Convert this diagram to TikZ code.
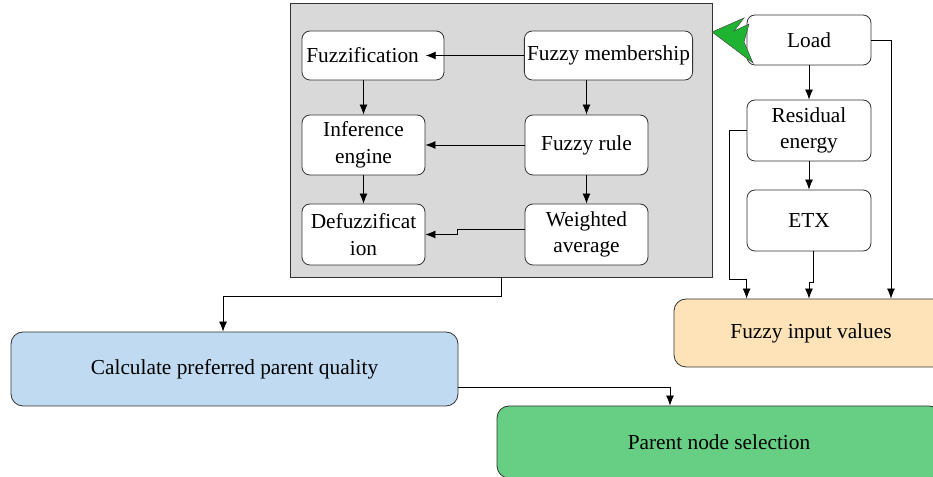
\documentclass[tikz,border=0pt]{standalone}
\usepackage{fontspec}
\setmainfont{Liberation Serif}
\usetikzlibrary{arrows.meta,positioning}
\definecolor{panelgray}{RGB}{217,217,217}
\definecolor{calcblue}{RGB}{192,219,241}
\definecolor{inputpeach}{RGB}{253,227,183}
\definecolor{selgreen}{RGB}{102,207,132}
\definecolor{boltgreen}{RGB}{30,180,50}

\begin{document}
\begin{tikzpicture}[%
        x=0.75pt, y=-0.75pt,
        every node/.style={font=\fontsize{16}{20}\selectfont, align=center, inner sep=2pt},
        box/.style={draw=black!80, line width=0.6pt, rounded corners=6pt, fill=white},
        bigbox/.style={draw=black!80, line width=0.6pt, rounded corners=9pt},
        line width=0.6pt, >={Latex[length=7.5pt,width=6pt]}
      ]
      \useasboundingbox (0,0) rectangle (933,477);
      \clip (0,0) rectangle (933,477);
      \node [draw=black!80, fill=panelgray, minimum width=316.5pt, minimum height=205.5pt] (panel) at (501,140) {};
      \node [box, minimum width=106.5pt, minimum height=36.75pt, text width=100pt, align=left] (fuzz) at (373,55.5) {Fuzzification};
      \node [box, minimum width=125.25pt, minimum height=36.75pt] (memb) at (608.5,55.5) {Fuzzy membership};
      \node [box, minimum width=92.25pt, minimum height=45pt] (infer) at (363.5,145) {Inference\\engine};
      \node [box, minimum width=92.25pt, minimum height=45pt] (rule) at (586.5,145) {Fuzzy rule};
      \node [box, minimum width=92.25pt, minimum height=45.75pt] (defuzz) at (363.5,234.5) {Defuzzificat\\ion};
      \node [box, minimum width=92.25pt, minimum height=45.75pt] (wavg) at (586.5,234.5) {Weighted\\average};
      \node [box, minimum width=93pt, minimum height=37.5pt] (load) at (809,40) {Load};
      \node [box, minimum width=93pt, minimum height=45.75pt] (resid) at (809,130.5) {Residual\\energy};
      \node [box, minimum width=93pt, minimum height=45.75pt] (etx) at (809,220.5) {ETX};
      \node [bigbox, fill=inputpeach, minimum width=205.5pt, minimum height=51pt] (fiv) at (811,333) {Fuzzy input values};
      \node [bigbox, fill=calcblue, minimum width=335.25pt, minimum height=55.5pt] (calc) at (234.5,369) {Calculate preferred parent quality};
      \node [bigbox, fill=selgreen, minimum width=333pt, minimum height=54pt] (parent) at (719,442) {Parent node selection};
      \draw [fill=boltgreen, draw=black!70, line width=0.4pt] (712,32) -- (744,18) -- (734,31) -- (749,24) -- (744,42) -- (753,63) -- (732,47) -- cycle;
      \draw [->, shorten >=-14pt] (memb.west) -- (fuzz.east);
      \draw [->] (rule.west) -- (infer.east);
      \draw [->] ([yshift=4pt]wavg.west) -- ++(-67,0) |- (defuzz.east);
      \draw [->] (fuzz.south -| infer.north) -- (infer.north);
      \draw [->] (memb.south -| rule.north) -- (rule.north);
      \draw [->] (infer) -- (defuzz);
      \draw [->] (rule) -- (wavg);
      \draw [->] (load) -- (resid);
      \draw [->] (resid) -- (etx);
      \draw [->] (resid.west) -- ++(-17,0) -- ++(0,149) -| (fiv.north -| resid.west);
      \draw [->] ([xshift=3pt]etx.south) -- ++(0,31) -| (fiv.north -| etx.south);
      \draw [->] (load.east) -| ([xshift=60pt]fiv.north);
      \draw [->] (panel.south) -- ++(0,19) -| ([xshift=-8.6pt]calc.north);
      \draw [->] ([yshift=-13.5pt]calc.east) -| ([xshift=-36.75pt]parent.north);
    \end{tikzpicture}
\end{document}
